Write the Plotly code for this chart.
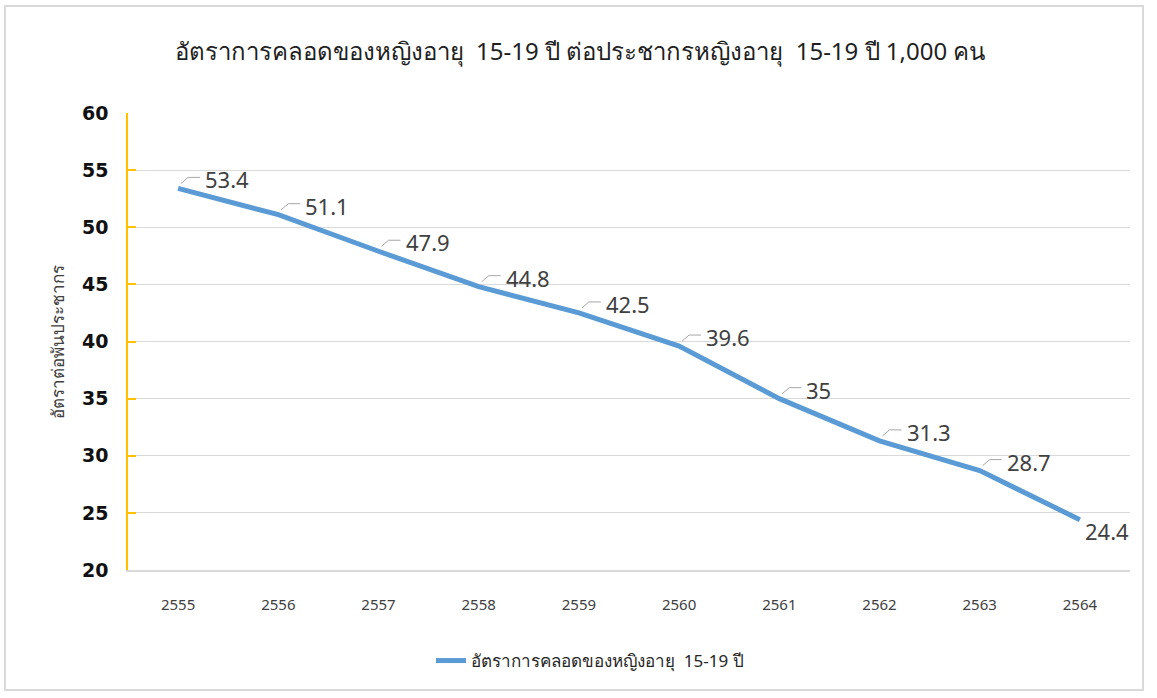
import plotly.graph_objects as go

years = ["2555", "2556", "2557", "2558", "2559", "2560", "2561", "2562", "2563", "2564"]
rates = [53.4, 51.1, 47.9, 44.8, 42.5, 39.6, 35, 31.3, 28.7, 24.4]
label_text = ["53.4", "51.1", "47.9", "44.8", "42.5", "39.6", "35", "31.3", "28.7", "24.4"]
y_ticks = [20, 25, 30, 35, 40, 45, 50, 55, 60]

title_text = "อัตราการคลอดของหญิงอายุ  15-19 ปี ต่อประชากรหญิงอายุ  15-19 ปี 1,000 คน"
series_name = "อัตราการคลอดของหญิงอายุ  15-19 ปี"
y_title = "อัตราต่อพันประชากร"

FONT = "Tahoma, 'Noto Sans', 'DejaVu Sans', sans-serif"
W, H = 1157, 698
ML, MR, MT, MB = 128, 27, 113, 128
PW, PH = W - ML - MR, H - MT - MB

fig = go.Figure()
fig.add_trace(go.Scatter(
    x=list(range(len(years))), y=rates, mode="lines", name=series_name,
    line=dict(color="#5B9BD5", width=5),
    hoverinfo="x+y",
))

annotations = []
shapes = []
n = len(years)
for i, (v, t) in enumerate(zip(rates, label_text)):
    if i == n - 1:
        annotations.append(dict(x=i, y=v, xref="x", yref="y", text=t, showarrow=False,
                                xanchor="left", yanchor="middle", xshift=3, yshift=-11,
                                font=dict(size=22, color="#404040", family=FONT)))
    else:
        annotations.append(dict(x=i, y=v, xref="x", yref="y", text=t, showarrow=False,
                                xanchor="left", yanchor="middle", xshift=25, yshift=9,
                                font=dict(size=22, color="#404040", family=FONT)))
        shapes.append(dict(type="path", xref="x", yref="y", xsizemode="pixel", ysizemode="pixel",
                           xanchor=i, yanchor=v, path="M 3,5 L 10,11 L 22,11",
                           line=dict(color="#A6A6A6", width=1)))

# y-axis title
annotations.append(dict(x=(57 - ML) / PW, y=0.5, xref="paper", yref="paper", text=y_title,
                        textangle=-90, showarrow=False, xanchor="center", yanchor="middle",
                        font=dict(size=17, color="#404040", family=FONT)))

# outer border
shapes.append(dict(type="rect", xref="paper", yref="paper",
                   x0=(5 - ML) / PW, x1=(1143 - ML) / PW,
                   y0=-(690 - (H - MB)) / PH, y1=1 + (MT - 6) / PH,
                   line=dict(color="#D9D9D9", width=2), fillcolor="rgba(0,0,0,0)", layer="below"))

fig.update_layout(
    width=W, height=H, autosize=False,
    margin=dict(l=ML, r=MR, t=MT, b=MB, autoexpand=False),
    paper_bgcolor="white", plot_bgcolor="white",
    title=dict(text=title_text, x=(580 / W), xanchor="center", y=1 - 52 / H, yanchor="middle",
               font=dict(size=24, color="#1f1f1f", family=FONT)),
    showlegend=True,
    legend=dict(orientation="h", x=(590 - ML) / PW, xanchor="center",
                y=-(661 - (H - MB)) / PH, yanchor="middle",
                font=dict(size=17, color="#262626", family=FONT)),
    xaxis=dict(tickmode="array", tickvals=list(range(n)), ticktext=years,
               range=[-0.5, n - 0.5], showgrid=False, zeroline=False,
               showline=True, linecolor="#D9D9D9", linewidth=1.5,
               ticks="", ticklabelstandoff=20, tickangle=0, automargin=False,
               tickfont=dict(size=15, color="#404040", family=FONT)),
    yaxis=dict(range=[20, 60], tickvals=y_ticks, showgrid=True, gridcolor="#D9D9D9",
               gridwidth=1.2, zeroline=False, showline=True, linecolor="#FFC000", linewidth=1.5,
               ticks="inside", ticklen=8, tickcolor="#FFC000", tickwidth=1.5,
               ticklabelstandoff=14, automargin=False,
               tickfont=dict(size=19, color="#111111", family="'DejaVu Sans', sans-serif",
                             weight="bold")),
    annotations=annotations,
    shapes=shapes,
)

fig.write_html("out.html", config={"displayModeBar": False},
               post_script="document.body.style.margin='0';")
